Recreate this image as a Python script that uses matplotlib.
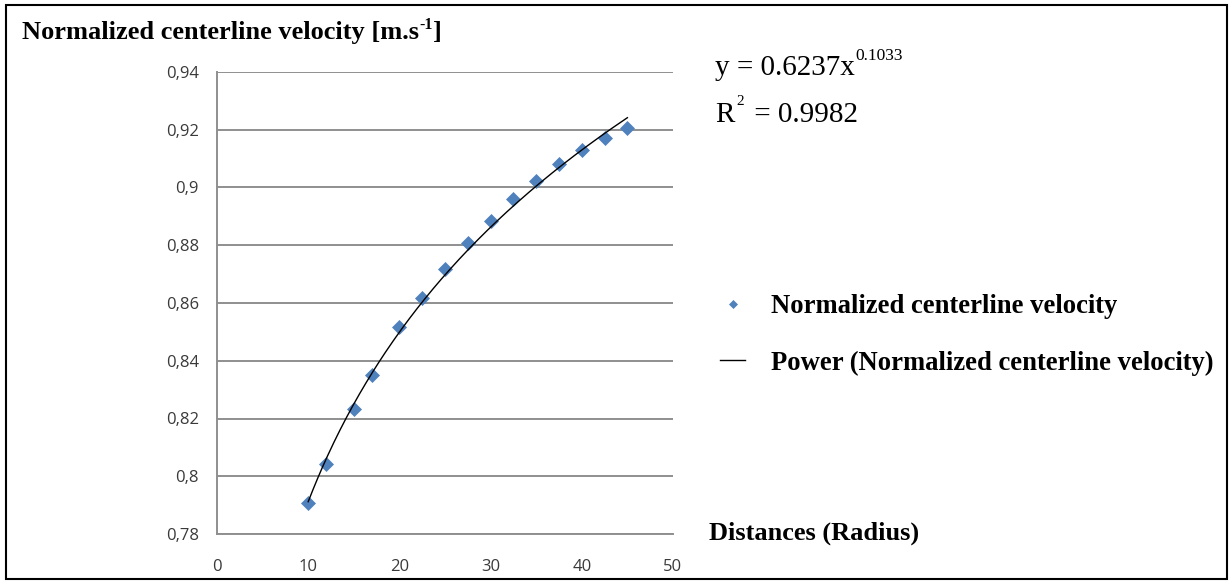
import matplotlib
matplotlib.use("Agg")
import matplotlib.pyplot as plt
import numpy as np
from matplotlib.patches import Rectangle

# ---- data ----
distances = [10, 12, 15, 17, 20, 22.5, 25, 27.5, 30, 32.5, 35, 37.5, 40, 42.5, 45]
velocity = [0.7907, 0.8042, 0.8233, 0.8351, 0.8517, 0.8617, 0.8718, 0.8808,
            0.8884, 0.8960, 0.9023, 0.9081, 0.9130, 0.9171, 0.9206]
fit_a = 0.6237
fit_b = 0.1033
r_squared = 0.9982
y_ticks = [0.78, 0.80, 0.82, 0.84, 0.86, 0.88, 0.90, 0.92, 0.94]
y_tick_labels = ["0,78", "0,8", "0,82", "0,84", "0,86", "0,88", "0,9", "0,92", "0,94"]
x_ticks = [0, 10, 20, 30, 40, 50]
series_label = "Normalized centerline velocity"
trend_label = "Power (Normalized centerline velocity)"

W, H = 1231, 583
fig = plt.figure(figsize=(W / 100, H / 100), dpi=100)
fig.patch.set_facecolor("white")


def fx(px):
    return px / W


def fy(py):
    return 1 - py / H


ax = fig.add_axes([fx(217), fy(534), fx(673) - fx(217), fy(72) - fy(534)])

grid_c = "#8f8f8f"
ax.set_xlim(0, 50)
ax.set_ylim(0.78, 0.94)
ax.set_yticks(y_ticks)
ax.set_yticklabels(y_tick_labels)
ax.set_xticks(x_ticks)
ax.yaxis.grid(True, color=grid_c, lw=1.4)
ax.set_axisbelow(True)
for s in ["top", "right"]:
    ax.spines[s].set_visible(False)
for s in ["left", "bottom"]:
    ax.spines[s].set_color(grid_c)
    ax.spines[s].set_linewidth(1.4)
ax.tick_params(axis="y", length=0, pad=13, labelsize=12, labelcolor="#3a3a3a")
ax.tick_params(axis="x", length=0, pad=18, labelsize=12, labelcolor="#3a3a3a")
for lab in ax.get_xticklabels() + ax.get_yticklabels():
    lab.set_family("Open Sans")

# trendline from the displayed power-fit equation
xf = np.linspace(min(distances), max(distances), 200)
yf = fit_a * xf ** fit_b
ax.plot(distances, velocity, ls="none", marker="D", ms=6.8, mfc="#4f81bd",
        mec="#4f81bd", mew=0.5, label=series_label, zorder=3)
ax.plot(xf, yf, color="black", lw=1.0, label=trend_label, zorder=4)

serif_b = dict(family="Liberation Serif", weight="bold")
serif = dict(family="Liberation Serif")

fig.canvas.draw()
renderer = fig.canvas.get_renderer()


def run(pieces, x0, baseline):
    """pieces: list of (text, size, rise_px, gap_px, fontdict)"""
    x = x0
    for txt, size, rise, gap, fd in pieces:
        x += gap
        t = fig.text(fx(x), fy(baseline - rise), txt, fontsize=size, va="baseline",
                     ha="left", color="black", **fd)
        bb = t.get_window_extent(renderer=renderer)
        x += bb.width


# title (y-axis caption)
run([("Normalized centerline velocity [m.s", 19, 0, 0, serif_b),
     ("-1", 11.5, 10, 0, serif_b),
     ("]", 19, 0, 0, serif_b)], 22, 39)

# equation
run([("y = 0.6237x", 21, 0, 0, serif),
     ("0.1033", 12.5, 15, 1, serif)], 715, 75)
run([("R", 21, 0, 0, serif),
     ("2", 11, 17, 2, serif),
     (" = 0.9982", 21, 0, 3, serif)], 715, 122)

# x-axis caption
fig.text(fx(709), fy(540), "Distances (Radius)", fontsize=19, va="baseline",
         ha="left", **serif_b)

# legend
leg = fig.legend(loc="upper left", bbox_to_anchor=(fx(720), fy(294)),
                 frameon=False, prop=dict(family="Liberation Serif", weight="bold", size=19.2),
                 handlelength=0.95, handletextpad=0.98, labelspacing=1.18,
                 markerscale=0.65, numpoints=1, borderaxespad=0, borderpad=0)

# outer frame
fig.patches.append(Rectangle((fx(6), fy(579)), fx(1227) - fx(6), fy(5) - fy(579),
                             transform=fig.transFigure, fill=False, ec="black",
                             lw=1.5, zorder=10))

fig.savefig("out.png", dpi=100, facecolor="white")
